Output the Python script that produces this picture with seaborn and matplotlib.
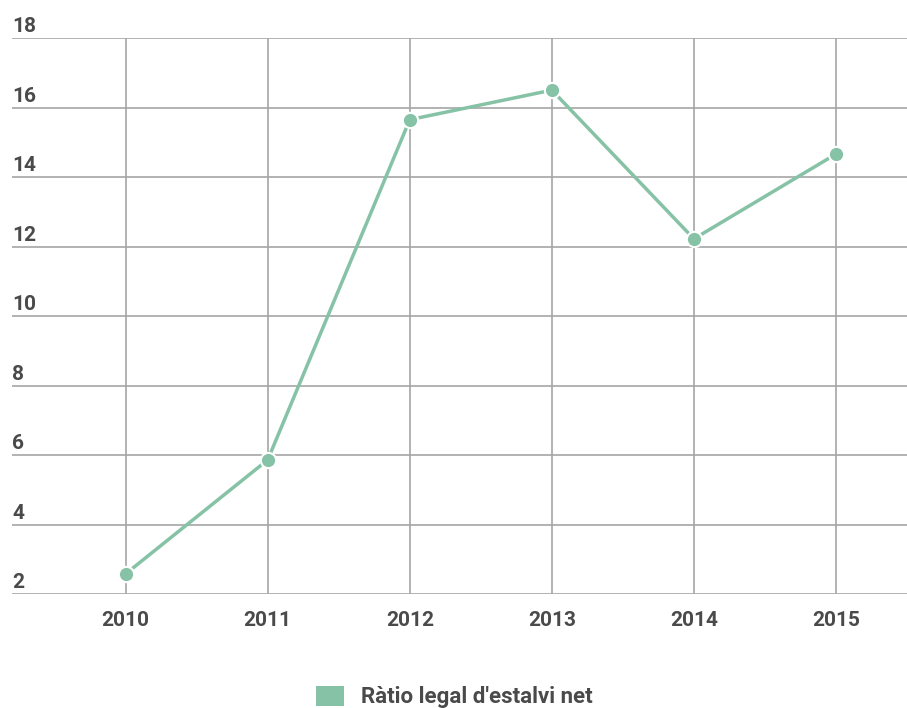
import matplotlib
matplotlib.use("Agg")
import matplotlib.pyplot as plt
import matplotlib.transforms as mtransforms
from matplotlib.patches import Patch
import seaborn as sns
import pandas as pd

years = ["2010", "2011", "2012", "2013", "2014", "2015"]
ratio = [2.58, 5.86, 15.65, 16.5, 12.22, 14.66]
yticks = [2, 4, 6, 8, 10, 12, 14, 16, 18]
series_name = "Ràtio legal d'estalvi net"

df = pd.DataFrame({"year": years, "ratio": ratio, "pos": range(len(years))})

sns.set_theme(style="white")
plt.rcParams['font.family'] = ['Roboto', 'DejaVu Sans']

fig = plt.figure(figsize=(9.07, 7.08), dpi=100)
ax = fig.add_axes([12/907, 1-594/708, 1-12/907, (594-38)/708])

color = "#86c2a5"
text_color = "#4a4a4a"
sns.lineplot(data=df, x="pos", y="ratio", ax=ax, color=color, linewidth=2.5,
             marker="o", markersize=11, markeredgecolor="white", markeredgewidth=1.5,
             zorder=5)

ax.set_xlim(-0.8, 5.5)
ax.set_ylim(2, 18)
ax.set_yticks(yticks)
ax.set_yticklabels([])
ax.tick_params(axis='y', length=0)
ax.set_xticks(range(len(years)))
ax.set_xticklabels(years, fontsize=15, color=text_color, fontweight="bold")
ax.tick_params(axis='x', length=0, pad=12)
ax.set_xlabel("")
ax.set_ylabel("")
for s in ax.spines.values():
    s.set_visible(False)
ax.grid(True, color="#a6a6a6", linewidth=1.2)
ax.set_axisbelow(True)

trans = mtransforms.blended_transform_factory(ax.transAxes, ax.transData)
for t in yticks:
    ax.text(0.0, t + 0.17, str(t), transform=trans, ha="left", va="baseline",
            fontsize=15, color=text_color, fontweight="bold")

handles = [Patch(facecolor=color, edgecolor="none", label=series_name)]
fig.legend(handles=handles, loc="center", bbox_to_anchor=(0.501, 1-697/708),
           frameon=False, handlelength=1.25, handleheight=1.05, handletextpad=0.8,
           labelcolor=text_color, prop={'weight': 'bold', 'size': 16}, borderpad=0)

fig.savefig("out.png", dpi=100)
